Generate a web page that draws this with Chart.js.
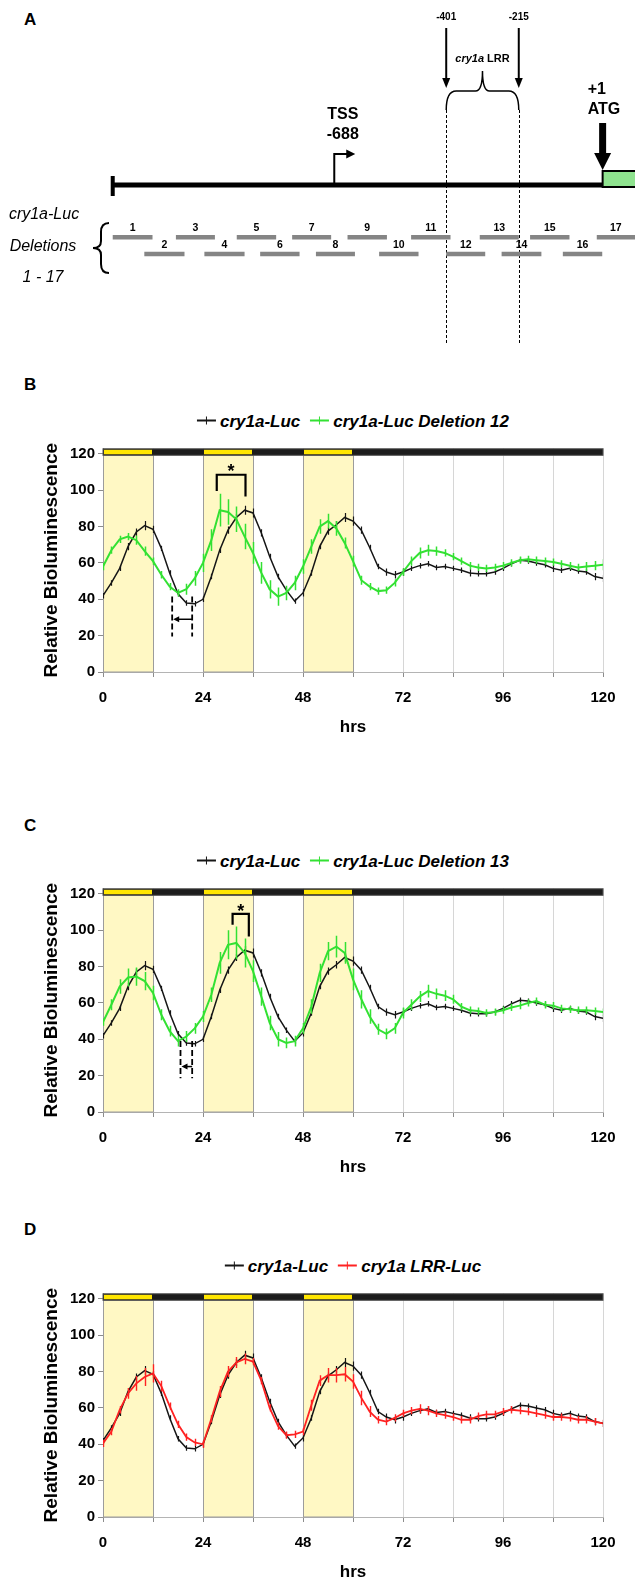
<!DOCTYPE html>
<html>
<head>
<meta charset="utf-8">
<script src="https://cdn.jsdelivr.net/npm/chart.js@4.4.1/dist/chart.umd.min.js"></script>
<style>
  html, body { margin: 0; padding: 0; background: #fff; overflow: hidden; }
  #page { position: relative; width: 635px; height: 1582px; font-family: 'Liberation Sans', Arial, sans-serif; }
  canvas { position: absolute; left: 0; }
  .letter { position: absolute; left: 24px; font-weight: bold; font-size: 17px; line-height: 1; transform: translateY(-50%); }
  .legend { position: absolute; left: 353px; transform: translate(-50%, -50%); display: flex; align-items: center;
            white-space: nowrap; font-weight: bold; font-style: italic; font-size: 17px; line-height: 1; }
  .legend .item { display: inline-flex; align-items: center; }
  .legend .item + .item { margin-left: 10px; }
  .legend .sw { position: relative; display: inline-block; width: 19px; height: 2px; margin-right: 4px; }
  .legend .sw::after { content: ''; position: absolute; left: 9px; top: -3px; width: 1px; height: 8px; background: inherit; }
</style>
</head>
<body>
<div id="page">
  <div class="letter" style="top:19px">A</div>
  <canvas id="chartA" width="635" height="345" style="top:0"></canvas>

  <div class="letter" style="top:384px">B</div>
  <div class="legend" id="legendB" style="top:420.5px"></div>
  <canvas id="chartB" width="635" height="338" style="top:400px"></canvas>

  <div class="letter" style="top:825px">C</div>
  <div class="legend" id="legendC" style="top:860.5px"></div>
  <canvas id="chartC" width="635" height="338" style="top:840px"></canvas>

  <div class="letter" style="top:1229px">D</div>
  <div class="legend" id="legendD" style="top:1265.5px"></div>
  <canvas id="chartD" width="635" height="338" style="top:1245px"></canvas>
</div>

<script>
// ---------- panel A: cry1a promoter, positions in bp relative to ATG ----------
const promoterStart = -1256;
const atgPos = 0;
const tssPos = -688;
const lrrBounds = [-401, -215];
const deletionNames = ['1','2','3','4','5','6','7','8','9','10','11','12','13','14','15','16','17'];
const deletionStart = [-1256, -1175, -1094, -1021, -938, -878, -796, -735, -654, -573, -491, -401, -315, -259, -186, -102, -15];
const deletionEnd   = [-1154, -1072, -994, -918, -837, -777, -696, -635, -553, -472, -390, -301, -215, -157, -85, -1, 86];

// ---------- panels B-D: bioluminescence traces ----------
const hours = [0, 2, 4, 6, 8, 10, 12, 14, 16, 18, 20, 22, 24, 26, 28, 30, 32, 34, 36, 38,
               40, 42, 44, 46, 48, 50, 52, 54, 56, 58, 60, 62, 64, 66, 68, 70, 72, 74, 76, 78,
               80, 82, 84, 86, 88, 90, 92, 94, 96, 98, 100, 102, 104, 106, 108, 110, 112, 114, 116, 118, 120];

const ctrlLuc = [42, 49, 57, 69, 77, 80.5, 78.5, 68, 54.5, 43,
                 38, 37.5, 40, 52.5, 67, 78, 85, 89, 87.5, 76.5,
                 63.5, 52.5, 45, 39, 43.5, 54.5, 69, 77.5, 81, 85,
                 83, 78, 68.5, 58, 55, 53.5, 55, 57, 58.5, 59.5,
                 57.5, 58, 57, 56, 54.5, 54, 54, 55, 57, 59.5,
                 61.5, 61, 60, 59, 57, 56, 57, 55.5, 55, 52.5, 51.5];
const ctrlErr = [1.5, 1.5, 1.5, 2, 2, 2.5, 2, 1.5, 1.5, 1.5,
                 1.5, 1.5, 1.5, 1.5, 1.5, 2, 2, 2.5, 2.5, 2,
                 1.5, 1.5, 1.5, 1.5, 2, 1.5, 1.5, 2, 2, 2.5,
                 2.5, 2, 1.5, 1.5, 2, 2, 2, 1.5, 1.5, 1.5,
                 1.5, 1.5, 1.5, 1.5, 2, 1.5, 1.5, 1.5, 1.5, 1.5,
                 1.5, 1.5, 1.5, 1.5, 2, 1.5, 1.5, 1.5, 1.5, 2, 2];

const del12Luc = [58, 67, 73, 74.5, 72.5, 66.5, 61, 53.5, 47, 43.5,
                  45.5, 51.5, 60, 72.5, 89, 88, 84, 74.5, 65.5, 54.5,
                  45.5, 41.5, 43.5, 49, 58, 69, 80, 83, 79, 71,
                  61, 50.5, 47, 44.5, 45, 49, 55, 61, 65.5, 67,
                  66.5, 65.5, 63.5, 61, 58.5, 57.5, 57, 57.5, 58.5, 60,
                  61.5, 62, 61.5, 61, 60.5, 59.5, 58.5, 57.5, 58, 58.5, 59];
const del12Err = [2, 2, 2, 2, 2.5, 2.5, 2, 2, 2, 2,
                  3, 4, 5, 6, 9, 7, 7, 7, 6, 6,
                  5, 5, 4, 4, 4, 4, 4, 4, 4, 3,
                  3, 2.5, 2, 2, 2, 2, 2, 2.5, 3, 3,
                  2.5, 2, 2, 2, 2, 2, 2, 2, 2, 2,
                  2, 2, 2, 2, 2, 2, 2, 2, 2.5, 2.5, 3];

const del13Luc = [49.5, 59, 69, 74, 74.5, 72, 65.5, 53.5, 44.5, 39,
                  41.5, 46, 52.5, 64.5, 82, 92, 93, 87.5, 77.5, 63.5,
                  49, 40, 38, 39, 46, 58, 76.5, 88.5, 91, 87.5,
                  73, 62, 52.5, 45.5, 43, 46, 54.5, 59, 63.5, 66.5,
                  65, 64, 62, 58, 56, 55.5, 54.5, 55, 56, 57.5,
                  58.5, 60, 61, 59, 58.5, 57, 56.5, 56, 56, 55.5, 55];
const del13Err = [2, 3, 4, 5, 5, 5, 4, 3, 3, 3,
                  3, 3, 3, 4, 6, 8, 9, 8, 6, 5,
                  4, 4, 3, 3, 3, 4, 5, 5, 6, 6,
                  6, 5, 4, 3, 3, 3, 3, 3, 3, 3.5,
                  3, 3, 2.5, 2, 2, 2, 2, 2, 2, 2,
                  2, 2, 2, 2, 2, 2, 2, 2, 2, 2, 2];

const lrrLuc = [40.5, 47, 59, 68, 73.5, 77, 79, 72, 61, 51,
                44, 41, 40, 54, 69, 80, 85, 87, 85.5, 75,
                60, 50, 45, 45.5, 47, 61.5, 75, 78, 78, 78.5,
                74.5, 65.5, 58, 53.5, 52.5, 54.5, 57, 58.5, 59.5, 58.5,
                57, 56, 55, 53.5, 53.5, 55.5, 56.5, 56.5, 58, 59,
                58.5, 58, 57, 56, 55, 55, 54.5, 53.5, 53.5, 52.5, 51.5];
const lrrErr = [2, 2, 2, 3, 4, 5, 5, 3, 2, 2,
                2, 2, 2, 2, 3, 3, 3, 3, 2, 2,
                2, 2, 2, 2, 2, 3, 3, 4, 4, 4,
                4, 4, 3, 2, 2, 2, 2, 2, 2.5, 2.5,
                2, 2, 2, 2, 2, 2, 2, 2, 2, 2,
                2, 2, 2, 2, 2, 2, 2, 2, 2, 2, 2];

const lightOn = [[0, 12], [24, 36], [48, 60]];   // light phases, hrs
const gridHours = [0, 12, 24, 36, 48, 60, 72, 84, 96, 108, 120];
const xTickLabels = [0, 24, 48, 72, 96, 120];
const yTickValues = [0, 20, 40, 60, 80, 100, 120];

const ctrlName = 'cry1a-Luc';
const del12Name = 'cry1a-Luc Deletion 12';
const del13Name = 'cry1a-Luc Deletion 13';
const lrrName = 'cry1a LRR-Luc';

Chart.defaults.font.family = "'Liberation Sans', Arial, sans-serif";
Chart.defaults.color = '#000';

// ---------- panel A ----------
const LINE_Y = 185, ROW1 = 237.3, ROW2 = 254;

const delPoints = [];
deletionStart.forEach((s, i) => {
  const row = i % 2 === 0 ? ROW1 : ROW2;
  delPoints.push({ x: s, y: row }, { x: deletionEnd[i], y: row }, { x: deletionEnd[i], y: null });
});

function arrowDown(ctx, x, y0, y1, w, head, half) {
  ctx.lineWidth = w;
  ctx.beginPath(); ctx.moveTo(x, y0); ctx.lineTo(x, y1 - head + 1); ctx.stroke();
  ctx.beginPath(); ctx.moveTo(x - half, y1 - head); ctx.lineTo(x + half, y1 - head); ctx.lineTo(x, y1); ctx.closePath(); ctx.fill();
}

const mapPlugin = {
  id: 'promoterMap',
  beforeDatasetsDraw(chart) {
    const { ctx, scales: { x } } = chart;
    ctx.save();
    ctx.strokeStyle = '#000';
    ctx.lineWidth = 1;
    ctx.setLineDash([3, 2]);
    lrrBounds.forEach(b => {
      const px = Math.round(x.getPixelForValue(b)) + 0.5;
      ctx.beginPath(); ctx.moveTo(px, 110); ctx.lineTo(px, 345); ctx.stroke();
    });
    ctx.restore();
  },
  afterDatasetsDraw(chart) {
    const { ctx, scales: { x } } = chart;
    const X = v => x.getPixelForValue(v);
    ctx.save();
    ctx.fillStyle = '#000';
    ctx.strokeStyle = '#000';

    // start of promoter
    ctx.fillRect(X(promoterStart) - 2, LINE_Y - 9, 4, 20);

    // luciferase box after ATG
    ctx.fillStyle = '#8fe38f';
    ctx.fillRect(X(atgPos), LINE_Y - 14, 80, 16);
    ctx.lineWidth = 2;
    ctx.strokeRect(X(atgPos), LINE_Y - 14, 80, 16);
    ctx.fillStyle = '#000';

    // ATG arrow
    ctx.strokeStyle = '#000';
    arrowDown(ctx, X(atgPos), 123, 170, 7, 17, 8.5);

    // TSS bent arrow
    const tx = X(tssPos);
    ctx.lineWidth = 2;
    ctx.beginPath(); ctx.moveTo(tx, LINE_Y); ctx.lineTo(tx, 154); ctx.lineTo(tx + 13, 154); ctx.stroke();
    ctx.beginPath(); ctx.moveTo(tx + 12, 149.5); ctx.lineTo(tx + 12, 158.5); ctx.lineTo(tx + 21, 154); ctx.closePath(); ctx.fill();

    // LRR boundary arrows
    lrrBounds.forEach(b => arrowDown(ctx, X(b), 28, 88, 2, 10, 4));

    // LRR brace
    const xa = X(lrrBounds[0]), xb = X(lrrBounds[1]), xm = (xa + xb) / 2;
    ctx.lineWidth = 1.5;
    ctx.beginPath();
    ctx.moveTo(xa, 110);
    ctx.quadraticCurveTo(xa, 91, xa + 10, 91);
    ctx.lineTo(xm - 7, 91);
    ctx.quadraticCurveTo(xm, 91, xm, 71);
    ctx.quadraticCurveTo(xm, 91, xm + 7, 91);
    ctx.lineTo(xb - 10, 91);
    ctx.quadraticCurveTo(xb, 91, xb, 110);
    ctx.stroke();

    // deletions brace
    ctx.lineWidth = 2;
    ctx.beginPath();
    ctx.moveTo(109, 223);
    ctx.quadraticCurveTo(101, 223, 101, 232);
    ctx.lineTo(101, 241);
    ctx.quadraticCurveTo(101, 248, 93, 248);
    ctx.quadraticCurveTo(101, 248, 101, 255);
    ctx.lineTo(101, 264);
    ctx.quadraticCurveTo(101, 273, 109, 273);
    ctx.stroke();

    // texts
    ctx.textBaseline = 'middle';
    ctx.textAlign = 'center';
    ctx.font = "bold 10px 'Liberation Sans'";
    lrrBounds.forEach(b => ctx.fillText(String(b), X(b), 17.5));
    ctx.font = "bold 10.5px 'Liberation Sans'";
    deletionNames.forEach((n, i) => {
      const cx = (X(deletionStart[i]) + X(Math.min(deletionEnd[i], 83))) / 2;
      const cy = i % 2 === 0 ? ROW1 - 9.5 : ROW2 - 8.5;
      ctx.fillText(n, i === 16 ? (X(deletionStart[i]) + 19) : cx, cy);
    });

    ctx.font = "italic bold 11px 'Liberation Sans'";
    const w1 = ctx.measureText('cry1a ').width;
    ctx.font = "bold 11px 'Liberation Sans'";
    const w2 = ctx.measureText('LRR').width;
    ctx.textAlign = 'left';
    ctx.font = "italic bold 11px 'Liberation Sans'";
    ctx.fillText('cry1a ', xm - (w1 + w2) / 2, 59);
    ctx.font = "bold 11px 'Liberation Sans'";
    ctx.fillText('LRR', xm - (w1 + w2) / 2 + w1, 59);

    ctx.font = "bold 16px 'Liberation Sans'";
    ctx.textAlign = 'center';
    ctx.fillText('TSS', tx + 8.5, 115);
    ctx.fillText(String(tssPos), tx + 8.5, 135);
    ctx.textAlign = 'left';
    ctx.fillText('+1', X(atgPos) - 15, 90);
    ctx.fillText('ATG', X(atgPos) - 15, 110);

    ctx.font = "italic 16px 'Liberation Sans'";
    ctx.textAlign = 'center';
    ctx.fillText('cry1a-Luc', 44, 215);
    ctx.fillText('Deletions', 43, 247);
    ctx.fillText('1 - 17', 43, 278);
    ctx.restore();
  }
};

new Chart(document.getElementById('chartA'), {
  type: 'scatter',
  data: {
    datasets: [
      { data: [{ x: promoterStart, y: LINE_Y }, { x: atgPos, y: LINE_Y }], showLine: true,
        borderColor: '#000', borderWidth: 5, pointRadius: 0 },
      { data: delPoints, showLine: true, spanGaps: false, borderColor: '#858585', borderWidth: 4.5, pointRadius: 0 }
    ]
  },
  options: {
    animation: false,
    responsive: false,
    layout: { padding: 0 },
    plugins: { legend: { display: false }, tooltip: { enabled: false } },
    scales: {
      x: { type: 'linear', display: false, min: -1545, max: 83 },
      y: { type: 'linear', display: false, min: 0, max: 345, reverse: true }
    }
  },
  plugins: [mapPlugin]
});

// ---------- panels B-D ----------
const BAR_LOW = 119.2, BAR_HIGH = 122.8;

const lucDecor = {
  id: 'lucDecor',
  beforeDatasetsDraw(chart) {
    const { ctx, scales: { x, y } } = chart;
    ctx.save();
    const yTop = y.getPixelForValue(BAR_LOW), yBot = y.getPixelForValue(0);
    lightOn.forEach(([a, b]) => {
      const x0 = x.getPixelForValue(a), x1 = x.getPixelForValue(b);
      ctx.fillStyle = '#fff8c4';
      ctx.fillRect(x0, yTop, x1 - x0, yBot - yTop);
      ctx.strokeStyle = '#9c9c9c';
      ctx.lineWidth = 1;
      ctx.strokeRect(Math.round(x0) + 0.5, yTop, Math.round(x1) - Math.round(x0), yBot - yTop);
    });
    // light / dark bar
    const b0 = y.getPixelForValue(BAR_HIGH), b1 = y.getPixelForValue(BAR_LOW);
    const xs = x.getPixelForValue(0), xe = x.getPixelForValue(120);
    ctx.fillStyle = '#1c1c1c';
    ctx.fillRect(xs, b0, xe - xs, b1 - b0);
    lightOn.forEach(([a, b]) => {
      const x0 = x.getPixelForValue(a), x1 = x.getPixelForValue(b);
      ctx.fillStyle = '#ffe600';
      ctx.fillRect(x0 + 1, b0 + 1, x1 - x0 - 2, b1 - b0 - 2);
    });
    ctx.strokeStyle = '#555';
    ctx.lineWidth = 1;
    ctx.strokeRect(xs, b0, xe - xs, b1 - b0);
    ctx.restore();
  },
  afterDatasetsDraw(chart, args, opts) {
    const { ctx, chartArea, scales: { x, y } } = chart;
    ctx.save();
    ctx.beginPath();
    ctx.rect(chartArea.left, chartArea.top, chartArea.right - chartArea.left, chartArea.bottom - chartArea.top);
    ctx.clip();
    // error bars
    chart.data.datasets.forEach((ds, i) => {
      const meta = chart.getDatasetMeta(i);
      ctx.strokeStyle = ds.borderColor;
      ctx.lineWidth = ds.errWidth;
      meta.data.forEach((pt, j) => {
        const v = ds.data[j].y, e = ds.errors[j];
        const px = Math.round(pt.x) + 0.5;
        ctx.beginPath();
        ctx.moveTo(px, y.getPixelForValue(v + e));
        ctx.lineTo(px, y.getPixelForValue(v - e));
        ctx.stroke();
      });
    });
    ctx.restore();

    const m = opts.marks;
    if (!m) return;
    ctx.save();
    ctx.strokeStyle = '#000';
    ctx.fillStyle = '#000';
    // peak shift bracket
    const pa = x.getPixelForValue(m.peak[0]), pb = x.getPixelForValue(m.peak[1]);
    ctx.lineWidth = 2.2;
    ctx.beginPath();
    ctx.moveTo(pa, y.getPixelForValue(m.peakLegs[0]));
    ctx.lineTo(pa, y.getPixelForValue(m.peakTop));
    ctx.lineTo(pb, y.getPixelForValue(m.peakTop));
    ctx.lineTo(pb, y.getPixelForValue(m.peakLegs[1]));
    ctx.stroke();
    ctx.font = "bold 18px 'Liberation Sans'";
    ctx.textAlign = 'center';
    ctx.textBaseline = 'alphabetic';
    ctx.fillText('*', (pa + pb) / 2, y.getPixelForValue(m.star) + 10);
    // trough shift (dashed)
    const ta = x.getPixelForValue(m.trough[0]), tb = x.getPixelForValue(m.trough[1]);
    ctx.lineWidth = 1.8;
    ctx.setLineDash([6, 3]);
    [ta, tb].forEach(px => {
      ctx.beginPath();
      ctx.moveTo(px, y.getPixelForValue(m.troughRange[0]));
      ctx.lineTo(px, y.getPixelForValue(m.troughRange[1]));
      ctx.stroke();
    });
    ctx.setLineDash([]);
    const ay = y.getPixelForValue(m.arrowAt);
    ctx.lineWidth = 1.5;
    ctx.beginPath(); ctx.moveTo(tb, ay); ctx.lineTo(ta + 4, ay); ctx.stroke();
    ctx.beginPath(); ctx.moveTo(ta + 1, ay); ctx.lineTo(ta + 7, ay - 3); ctx.lineTo(ta + 7, ay + 3); ctx.closePath(); ctx.fill();
    ctx.restore();
  }
};

function buildLegend(id, series) {
  const el = document.getElementById(id);
  series.forEach(s => {
    const item = document.createElement('span');
    item.className = 'item';
    const sw = document.createElement('span');
    sw.className = 'sw';
    sw.style.background = s.color;
    item.appendChild(sw);
    item.appendChild(document.createTextNode(s.label));
    el.appendChild(item);
  });
}

function lucChart(id, series, marks) {
  return new Chart(document.getElementById(id), {
    type: 'line',
    data: {
      datasets: series.map((s, i) => ({
        label: s.label,
        data: hours.map((h, j) => ({ x: h, y: s.values[j] })),
        errors: s.errors,
        errWidth: s.errWidth,
        borderColor: s.color,
        borderWidth: s.width,
        pointRadius: 0,
        tension: 0,
        order: series.length - i
      }))
    },
    options: {
      animation: false,
      responsive: false,
      layout: { padding: { top: 48.4, right: 32, bottom: 0, left: 0 } },
      plugins: {
        legend: { display: false },
        tooltip: { enabled: false },
        lucDecor: { marks: marks }
      },
      scales: {
        x: {
          type: 'linear', min: 0, max: 120,
          afterBuildTicks: s => { s.ticks = gridHours.map(v => ({ value: v })); },
          afterFit: s => { s.height = 66; },
          ticks: {
            autoSkip: false, maxRotation: 0, padding: 12, color: '#000',
            font: { size: 15, weight: 'bold' },
            callback: v => xTickLabels.includes(v) ? String(v) : ''
          },
          grid: { color: '#d6d6d6', tickColor: '#8c8c8c', tickLength: 5, lineWidth: 1 },
          border: { color: '#b4b4b4' },
          title: { display: true, text: 'hrs', color: '#000', font: { size: 17, weight: 'bold' }, padding: 0 }
        },
        y: {
          type: 'linear', min: 0, max: 123,
          afterBuildTicks: s => { s.ticks = yTickValues.map(v => ({ value: v })); },
          afterFit: s => { s.width = 103; },
          ticks: { padding: 3, color: '#000', font: { size: 15, weight: 'bold' } },
          grid: { drawOnChartArea: false, tickColor: '#8c8c8c', tickLength: 5 },
          border: { color: '#9c9c9c' },
          title: { display: true, text: 'Relative Bioluminescence', color: '#000',
                   font: { size: 19, weight: 'bold' }, padding: { top: 40 } }
        }
      }
    },
    plugins: [lucDecor]
  });
}

const ctrlSeries = { label: ctrlName, values: ctrlLuc, errors: ctrlErr, color: '#161616', width: 1.5, errWidth: 1.2 };

const seriesB = [ctrlSeries, { label: del12Name, values: del12Luc, errors: del12Err, color: '#33e133', width: 2, errWidth: 1.5 }];
const seriesC = [ctrlSeries, { label: del13Name, values: del13Luc, errors: del13Err, color: '#33e133', width: 2, errWidth: 1.5 }];
const seriesD = [ctrlSeries, { label: lrrName, values: lrrLuc, errors: lrrErr, color: '#ff2222', width: 1.8, errWidth: 1.4 }];

buildLegend('legendB', seriesB);
buildLegend('legendC', seriesC);
buildLegend('legendD', seriesD);

lucChart('chartB', seriesB, { peak: [27.3, 34.2], peakTop: 108.5, peakLegs: [99.5, 96.5], star: 112.5,
                              trough: [16.6, 21.4], troughRange: [41.5, 19.5], arrowAt: 29 });
lucChart('chartC', seriesC, { peak: [31.1, 35], peakTop: 109, peakLegs: [103, 96.5], star: 112.5,
                              trough: [18.6, 21.4], troughRange: [39, 18.5], arrowAt: 25 });
lucChart('chartD', seriesD, null);
</script>
</body>
</html>
